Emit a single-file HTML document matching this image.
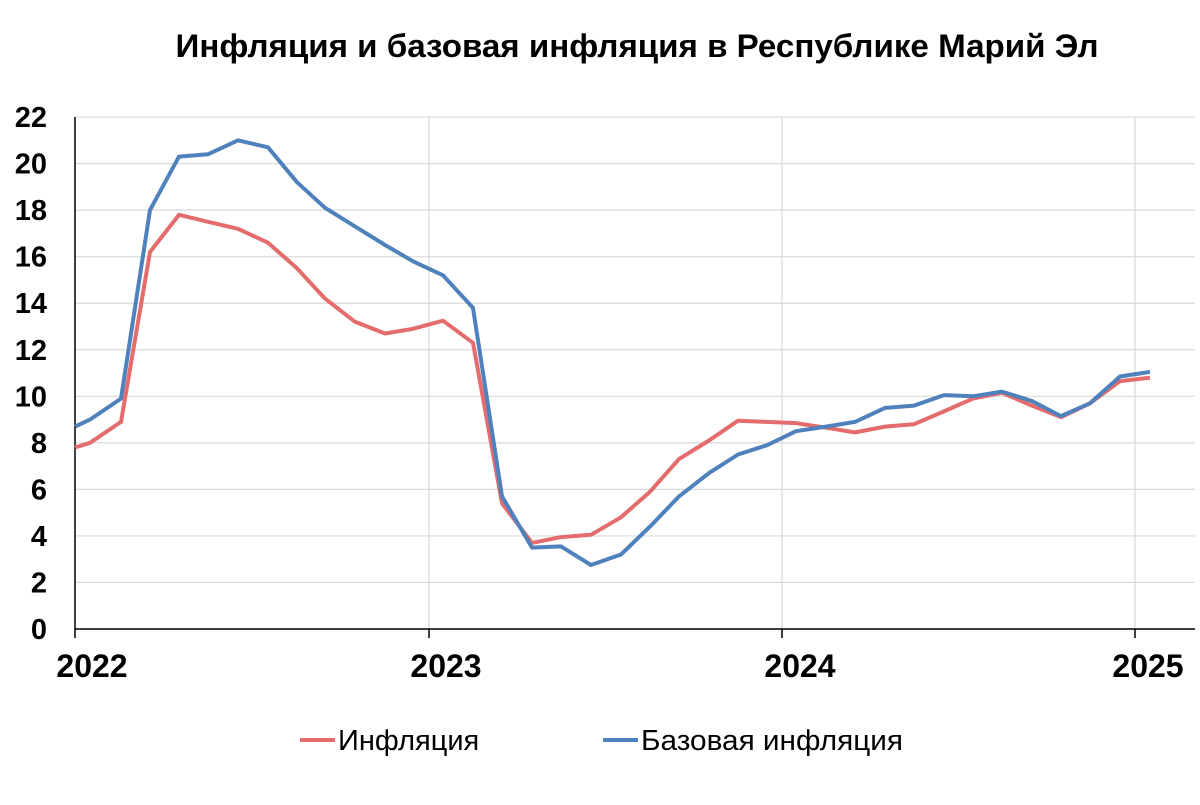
<!DOCTYPE html>
<html><head><meta charset="utf-8"><style>
body{margin:0;background:#fff;width:1200px;height:800px;overflow:hidden;font-family:"Liberation Sans",Arial,sans-serif}
</style></head><body>
<svg id="s" width="1200" height="800" xmlns="http://www.w3.org/2000/svg" font-family="Liberation Sans, Arial, sans-serif">
<text x="637" y="57" font-size="32" font-weight="bold" text-anchor="middle" fill="#000" textLength="923" lengthAdjust="spacingAndGlyphs">Инфляция и базовая инфляция в Республике Марий Эл</text>
<g id="grid" stroke="#d9d9d9" stroke-width="1.2"></g>
<g id="lab" font-size="29" font-weight="bold" fill="#000" text-anchor="end"></g>
<line x1="75" y1="117" x2="75" y2="629" stroke="#000" stroke-width="1.5"/>
<line x1="75" y1="629" x2="1195" y2="629" stroke="#000" stroke-width="1.5"/>
<g stroke="#000" stroke-width="1.5">
<line x1="75" y1="629" x2="75" y2="638"/><line x1="429" y1="629" x2="429" y2="638"/><line x1="782" y1="629" x2="782" y2="638"/><line x1="1135" y1="629" x2="1135" y2="638"/>
</g>
<g font-size="32" font-weight="bold" fill="#000" text-anchor="middle">
<text x="92" y="677">2022</text><text x="446" y="677">2023</text><text x="800" y="677">2024</text><text x="1148" y="677">2025</text>
</g>
<polyline id="r" fill="none" stroke="#e46c6c" stroke-width="4" stroke-linejoin="round"/>
<polyline id="b" fill="none" stroke="#4f81bd" stroke-width="4" stroke-linejoin="round"/>
<line x1="300" y1="740" x2="335" y2="740" stroke="#e46c6c" stroke-width="4"/>
<text x="338" y="750" font-size="29" fill="#000">Инфляция</text>
<line x1="603" y1="740" x2="638" y2="740" stroke="#4f81bd" stroke-width="4"/>
<text x="641" y="750" font-size="29" fill="#000" textLength="262" lengthAdjust="spacingAndGlyphs">Базовая инфляция</text>
</svg>
<script>
var Y=function(v){return 629-v*23.27};
var g=document.getElementById('grid'),l=document.getElementById('lab'),ns='http://www.w3.org/2000/svg';
for(var v=0;v<=22;v+=2){var y=Y(v);if(v>0){var ln=document.createElementNS(ns,'line');ln.setAttribute('x1',75);ln.setAttribute('x2',1195);ln.setAttribute('y1',y);ln.setAttribute('y2',y);g.appendChild(ln);}
var t=document.createElementNS(ns,'text');t.setAttribute('x',47);t.setAttribute('y',y+10);t.textContent=v;l.appendChild(t);}
[429,782,1135].forEach(function(x){var ln=document.createElementNS(ns,'line');ln.setAttribute('x1',x);ln.setAttribute('x2',x);ln.setAttribute('y1',117);ln.setAttribute('y2',629);g.appendChild(ln);});
var xs=[75,90,121,150,179,208,238,268,297,325,355,385,413,443,473,502,532,561,591,621,650,679,709,738,767,796,826,855,885,914,944,973,1002,1032,1061,1090,1120,1150];
var r=[7.8,8.0,8.9,16.2,17.8,17.5,17.2,16.6,15.5,14.2,13.2,12.7,12.9,13.25,12.3,5.4,3.7,3.95,4.05,4.8,5.9,7.3,8.1,8.95,8.9,8.85,8.65,8.45,8.7,8.8,9.35,9.9,10.15,9.6,9.1,9.7,10.65,10.8];
var b=[8.7,9.0,9.9,18.0,20.3,20.4,21.0,20.7,19.2,18.1,17.3,16.5,15.8,15.2,13.8,5.7,3.5,3.55,2.75,3.2,4.4,5.7,6.7,7.5,7.9,8.5,8.7,8.9,9.5,9.6,10.05,10.0,10.2,9.8,9.15,9.7,10.85,11.05];
function pts(a){return a.map(function(v,i){return xs[i]+','+Y(v).toFixed(1)}).join(' ')}
document.getElementById('r').setAttribute('points',pts(r));
document.getElementById('b').setAttribute('points',pts(b));
</script>
</body></html>
